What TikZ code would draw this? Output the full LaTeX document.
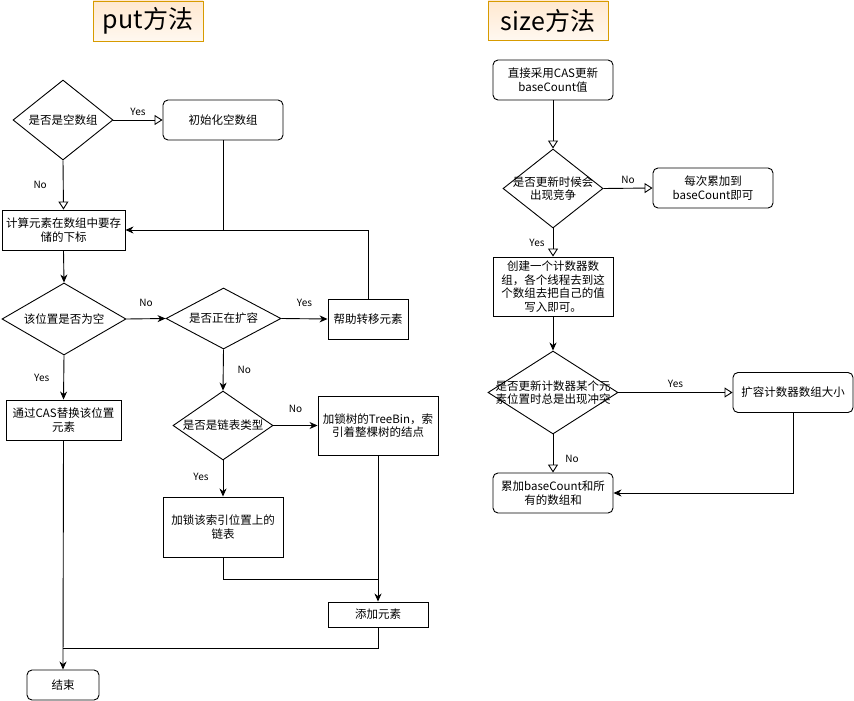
\documentclass[tikz,border=0pt]{standalone}
\usepackage{fontspec}
\setmainfont{Noto Sans CJK SC}
\usetikzlibrary{arrows.meta,shapes.geometric}
\tikzset{
  ln/.style={line width=0.9pt, draw=black},
  oarr/.style={ln, -{Triangle[open,length=8pt,width=10pt]}},
  farr/.style={ln, -{Stealth[length=8pt,width=7pt,inset=2.5pt]}},
  boxn/.style={draw=black, line width=0.9pt, inner sep=0pt, align=center, font=\fontsize{11.5}{13.5}\selectfont},
  rbox/.style={boxn, rounded corners=5pt},
  dia/.style={diamond, draw=black, line width=0.9pt, inner sep=0pt},
  dtxt/.style={inner sep=0pt, align=center, font=\fontsize{11.5}{13.5}\selectfont},
  lbl/.style={inner sep=0pt, font=\fontsize{10}{12}\selectfont},
  ttl/.style={draw={rgb,255:red,215;green,155;blue,0}, line width=0.9pt, top color={rgb,255:red,255;green,232;blue,208}, bottom color={rgb,255:red,255;green,248;blue,240}, inner sep=0pt, font=\fontsize{25}{28}\selectfont}
}
\begin{document}
\begin{tikzpicture}[x=1pt,y=-1pt]
\useasboundingbox (0,0) rectangle (854,701);
% titles
\node[ttl, minimum width=110pt, minimum height=40pt] (tput) at (148,21) {put方法};
\node[ttl, minimum width=120pt, minimum height=39pt] (tsize) at (548,20.5) {size方法};

% put flow
\node[dia, minimum width=100pt, minimum height=80pt] (d1) at (63,120) {};
\node[dtxt] (d1t) at (d1) {是否是空数组};
\node[rbox, minimum width=120pt, minimum height=40pt] (init) at (223,120) {初始化空数组};
\node[boxn, minimum width=123pt, minimum height=40pt] (calc) at (63.5,230) {计算元素在数组中要存\\储的下标};
\node[dia, minimum width=124pt, minimum height=72pt] (d2) at (64,319) {};
\node[dtxt] (d2t) at (d2) {该位置是否为空};
\node[dia, minimum width=115pt, minimum height=61pt] (d3) at (223.5,318.5) {};
\node[dtxt] (d3t) at (d3) {是否正在扩容};
\node[boxn, minimum width=80pt, minimum height=40pt] (help) at (368,319) {帮助转移元素};
\node[boxn, minimum width=115pt, minimum height=40pt] (cas) at (63.5,420) {通过CAS替换该位置\\元素};
\node[dia, minimum width=100pt, minimum height=69pt] (d5) at (223,425.5) {};
\node[dtxt] (d5t) at (d5) {是否是链表类型};
\node[boxn, minimum width=120pt, minimum height=59pt] (tree) at (378,425.5) {加锁树的TreeBin，索\\引着整棵树的结点};
\node[boxn, minimum width=120pt, minimum height=60pt] (lock) at (223,527) {加锁该索引位置上的\\链表};
\node[boxn, minimum width=100pt, minimum height=25pt] (add) at (378,614.5) {添加元素};
\node[rbox, minimum width=72pt, minimum height=30pt] (end) at (63,685) {结束};

\coordinate (j1) at (378,579);
\coordinate (j2) at (63,648);

\draw[oarr] (d1.east) -- (init.west) node[lbl, midway, above=4pt] (l1) {Yes};
\draw[oarr] (d1.south) -- (calc.north) node[lbl, pos=0.5, left=16pt] (l2) {No};
\draw[farr] (help.north) |- (calc.east);
\draw[ln] (init.south) -- (init.south |- calc.east);
\draw[farr] (calc.south) -- (d2.north);
\draw[farr] (d2.east) -- (d3.west) node[lbl, midway, above=12pt] (l3) {No};
\draw[farr] (d3.east) -- (help.west) node[lbl, midway, above=12pt] (l4) {Yes};
\draw[farr] (d2.south) -- (cas.north) node[lbl, midway, left=14pt] (l5) {Yes};
\draw[farr] (d3.south) -- (d5.north) node[lbl, pos=0.5, right=14pt] (l6) {No};
\draw[farr] (d5.east) -- (tree.west) node[lbl, midway, above=12pt] (l7) {No};
\draw[farr] (d5.south) -- (lock.north) node[lbl, pos=0.45, left=14pt] (l8) {Yes};
\draw[ln] (lock.south) |- (j1);
\draw[farr] (tree.south) -- (add.north);
\draw[farr] (cas.south) -- (end.north);
\draw[ln] (add.south) |- (j2);

% size flow
\node[rbox, minimum width=120pt, minimum height=40pt] (s0) at (553,80) {直接采用CAS更新\\baseCount值};
\node[dia, minimum width=100pt, minimum height=79pt] (s1) at (553,188.5) {};
\node[dtxt] (s1t) at (s1) {是否更新时候会\\出现竞争};
\node[rbox, minimum width=120pt, minimum height=40pt] (s2) at (713,188) {每次累加到\\baseCount即可};
\node[boxn, minimum width=120pt, minimum height=59pt] (s3) at (553,286.5) {创建一个计数器数\\组，各个线程去到这\\个数组去把自己的值\\写入即可。};
\node[dia, minimum width=130pt, minimum height=83pt] (s4) at (553,392.5) {};
\node[dtxt] (s4t) at (s4) {是否更新计数器某个元\\素位置时总是出现冲突};
\node[rbox, minimum width=120pt, minimum height=40pt] (s5) at (793,392.5) {扩容计数器数组大小};
\node[rbox, minimum width=120pt, minimum height=40pt] (s6) at (553,493) {累加baseCount和所\\有的数组和};

\draw[oarr] (s0.south) -- (s1.north);
\draw[oarr] (s1.east) -- (s2.west) node[lbl, midway, above=4pt] (l9) {No};
\draw[oarr] (s1.south) -- (s3.north) node[lbl, pos=0.5, left=8pt] (l10) {Yes};
\draw[farr] (s3.south) -- (s4.north);
\draw[oarr] (s4.east) -- (s5.west) node[lbl, pos=0.5, above=4pt] (l11) {Yes};
\draw[oarr] (s4.south) -- (s6.north) node[lbl, pos=0.65, right=12pt] (l12) {No};
\draw[farr] (s5.south) |- (s6.east);
\end{tikzpicture}
\end{document}
